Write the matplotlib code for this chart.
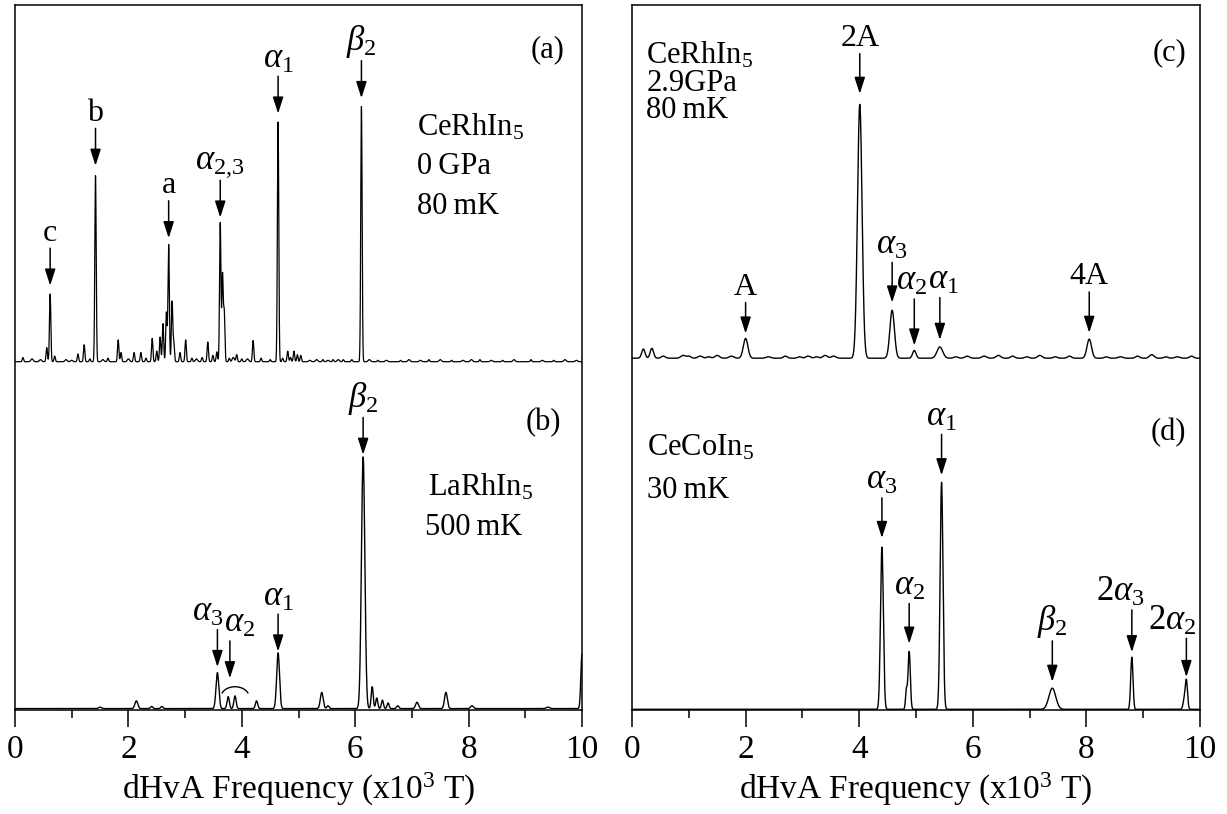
import numpy as np
import matplotlib
matplotlib.use("Agg")
import matplotlib.pyplot as plt
from matplotlib.ticker import MultipleLocator

plt.rcParams['font.family'] = ['Liberation Serif', 'DejaVu Serif']
plt.rcParams['mathtext.fontset'] = 'custom'
plt.rcParams['mathtext.rm'] = 'Liberation Serif'
plt.rcParams['mathtext.it'] = 'Liberation Serif:italic'
plt.rcParams['mathtext.bf'] = 'Liberation Serif:bold'

# ---------------- FFT spectra (frequency in 10^3 T, amplitude in arb. units) -------------
# (a) CeRhIn5, 0 GPa, 80 mK
a_base = 0.494
a_pos = [0.14, 0.56, 0.62, 0.70, 1.11, 1.22, 1.32, 1.42, 1.64, 1.82, 1.87, 2.10, 2.22,
         2.31, 2.42, 2.50, 2.56, 2.61, 2.67, 2.71, 2.77, 2.80, 2.91, 3.01, 3.12, 3.30,
         3.40, 3.49, 3.56, 3.62, 3.66, 3.69, 3.78, 3.91, 4.00, 4.20, 4.34, 4.50, 4.64,
         4.72, 4.81, 4.86, 4.92, 4.98, 5.04, 5.43, 5.61, 5.79, 5.94, 6.11, 6.40, 6.80,
         7.30, 7.70, 8.20, 8.60, 9.10, 9.50,
         0.30, 0.45, 0.90, 1.00, 1.55, 2.00, 3.20, 3.85, 4.10, 5.20, 5.32, 5.52, 5.70,
         6.25, 6.55, 6.95, 7.15, 7.50, 7.90, 8.05, 8.40, 8.80, 9.30, 9.70, 9.90]
a_amp = [0.006, 0.020, 0.096, 0.008, 0.011, 0.024, 0.004, 0.264, 0.005, 0.031, 0.013, 0.013,
         0.013, 0.005, 0.033, 0.015, 0.035, 0.054, 0.070, 0.166, 0.085, 0.027, 0.013, 0.031,
         0.005, 0.006, 0.028, 0.009, 0.014, 0.197, 0.123, 0.070, 0.005, 0.010, 0.004, 0.030,
         0.005, 0.003, 0.340, 0.005, 0.015, 0.006, 0.015, 0.010, 0.009, 0.003, 0.003, 0.003,
         0.003, 0.362, 0.002, 0.002, 0.003, 0.002, 0.003, 0.002, 0.003, 0.002,
         0.004, 0.003, 0.003, 0.002, 0.003, 0.004, 0.004, 0.006, 0.004, 0.002, 0.003, 0.002,
         0.003, 0.003, 0.002, 0.003, 0.002, 0.003, 0.002, 0.003, 0.002, 0.003, 0.002, 0.003,
         0.002]
a_wid = [0.012] * 58 + [0.02] * 25

# (b) LaRhIn5, 500 mK
b_base = 0.002
b_pos = [1.50, 2.14, 2.41, 2.59, 3.57, 3.76, 3.88, 4.26, 4.64, 5.41, 5.52, 6.14, 6.30,
         6.38, 6.48, 6.58, 6.75, 7.09, 7.60, 8.06, 9.40, 10.00]
b_amp = [0.002, 0.011, 0.003, 0.003, 0.051, 0.017, 0.018, 0.011, 0.079, 0.023, 0.004,
         0.357, 0.031, 0.015, 0.012, 0.008, 0.004, 0.009, 0.023, 0.004, 0.002, 0.077]
b_wid = [0.025, 0.025, 0.02, 0.02, 0.025, 0.02, 0.02, 0.02, 0.025, 0.025, 0.02,
         0.03, 0.018, 0.018, 0.018, 0.018, 0.02, 0.025, 0.025, 0.025, 0.03, 0.02]

# (c) CeRhIn5, 2.9 GPa, 80 mK
c_base = 0.499
c_pos = [0.20, 0.35, 0.90, 1.20, 1.50, 1.75, 2.00, 2.40, 3.10, 3.40, 3.55, 4.01, 4.58,
         4.97, 5.42, 5.90, 6.20, 6.45, 7.18, 8.05, 8.60, 9.15, 9.60,
         0.55, 1.00, 1.35, 2.70, 2.95, 3.25, 5.70, 6.70, 6.95, 7.45, 7.70, 8.35, 8.90,
         9.40, 9.85]
c_amp = [0.013, 0.014, 0.004, 0.003, 0.004, 0.003, 0.028, 0.002, 0.003, 0.004, 0.003,
         0.360, 0.068, 0.011, 0.016, 0.003, 0.003, 0.004, 0.004, 0.027, 0.002, 0.005, 0.002,
         0.003, 0.003, 0.002, 0.003, 0.002, 0.002, 0.002, 0.003, 0.002, 0.002, 0.003,
         0.002, 0.003, 0.002, 0.003]
c_wid = [0.03, 0.03, 0.04, 0.04, 0.04, 0.04, 0.04, 0.04, 0.04, 0.04, 0.04, 0.04, 0.04,
         0.03, 0.05, 0.04, 0.04, 0.04, 0.04, 0.04, 0.04, 0.04, 0.04] + [0.035] * 15

# (d) CeCoIn5, 30 mK
d_base = 0.001
d_pos = [4.40, 4.83, 4.88, 5.45, 7.40, 8.80, 9.72, 9.76]
d_amp = [0.230, 0.027, 0.082, 0.322, 0.030, 0.074, 0.012, 0.041]
d_wid = [0.025, 0.015, 0.02, 0.025, 0.06, 0.02, 0.02, 0.02]

x_ticks = [0, 2, 4, 6, 8, 10]
x_label = 'dHvA Frequency (x10$^{3}$ T)'

freq = np.linspace(0, 10.2, 4081)


def spectrum(base, pos, amp, wid):
    y = np.full_like(freq, base)
    for p, a, w in zip(pos, amp, wid):
        y += a * np.exp(-0.5 * ((freq - p) / w) ** 2)
    return y


def local_top(y, x, half=0.03):
    sel = (freq > x - half) & (freq < x + half)
    return y[sel].max()


def mark(ax, y, x, label, gap=0.010, length=0.053, dx=0.0, fs=25, top=None):
    peak = local_top(y, x) if top is None else top
    tip = peak + gap
    tail = tip + length
    ax.annotate('', xy=(x, tip), xytext=(x, tail),
                arrowprops=dict(arrowstyle='-|>,head_length=0.5,head_width=0.16',
                                color='k', lw=1.1, shrinkA=0, shrinkB=0,
                                mutation_scale=20))
    ax.text(x + dx, tail + 0.001, label, ha='center', va='bottom', fontsize=fs)


def bracket(ax, xc, yc, half_w, half_h, t0=25, t1=155):
    t = np.radians(np.linspace(t0, t1, 60))
    ax.plot(xc + half_w * np.cos(t), yc + half_h * np.sin(t), color='k', lw=1.0)


fig = plt.figure(figsize=(12.27, 8.14), dpi=100)
axL = fig.add_axes([15 / 1227, 104 / 814, 567 / 1227, 705 / 814])
axR = fig.add_axes([632 / 1227, 104 / 814, 568 / 1227, 705 / 814])

for ax in (axL, axR):
    ax.set_xlim(0, 10)
    ax.set_ylim(0, 1)
    ax.set_yticks([])
    ax.xaxis.set_major_locator(MultipleLocator(2))
    ax.xaxis.set_minor_locator(MultipleLocator(1))
    ax.set_xticks(x_ticks)
    ax.tick_params(axis='x', which='major', direction='out', length=12, width=1.1,
                   labelsize=24, pad=6, top=False)
    ax.tick_params(axis='x', which='minor', direction='out', length=6, width=1.1, top=False)
    for s in ax.spines.values():
        s.set_linewidth(1.1)
    ax.set_xlabel(x_label, fontsize=24, labelpad=4)

ya = spectrum(a_base, a_pos, a_amp, a_wid)
yb = spectrum(b_base, b_pos, b_amp, b_wid)
yc = spectrum(c_base, c_pos, c_amp, c_wid)
yd = spectrum(d_base, d_pos, d_amp, d_wid)

axL.plot(freq, ya, color='k', lw=0.9)
axL.plot(freq, yb, color='k', lw=1.0)
axR.plot(freq, yc, color='k', lw=1.0)
axR.plot(freq, yd, color='k', lw=1.0)

# ---- panel (a)
mark(axL, ya, a_pos[2], 'c', gap=0.012, fs=23)
mark(axL, ya, a_pos[7], 'b', gap=0.014, fs=23)
mark(axL, ya, a_pos[19], 'a', gap=0.009, fs=23)
mark(axL, ya, a_pos[29], r'$\alpha_{2{,}3}$', gap=0.007)
mark(axL, ya, a_pos[38], r'$\alpha_1$', gap=0.012)
mark(axL, ya, a_pos[49], r'$\beta_2$', gap=0.012)
axL.text(9.4, 0.936, '(a)', ha='center', va='center', fontsize=22)
axL.text(7.09, 0.827, 'CeRhIn$_5$', ha='left', va='center', fontsize=22)
axL.text(7.09, 0.771, '0\u2009GPa', ha='left', va='center', fontsize=22)
axL.text(7.09, 0.714, '80\u2009mK', ha='left', va='center', fontsize=22)

# ---- panel (b)
arc_top = 0.033
bracket(axL, 3.88, 0.018, 0.25, arc_top - 0.018)
mark(axL, yb, b_pos[4], r'$\alpha_3$', gap=0.008, dx=-0.17)
mark(axL, yb, 3.79, r'$\alpha_2$', gap=0.012, dx=0.17, top=arc_top)
mark(axL, yb, b_pos[8], r'$\alpha_1$', gap=0.002)
mark(axL, yb, b_pos[11], r'$\beta_2$', gap=0.003)
axL.text(9.31, 0.407, '(b)', ha='center', va='center', fontsize=22)
axL.text(7.29, 0.316, 'LaRhIn$_5$', ha='left', va='center', fontsize=22)
axL.text(7.23, 0.259, '500\u2009mK', ha='left', va='center', fontsize=22)

# ---- panel (c)
mark(axR, yc, c_pos[6], 'A', gap=0.007, length=0.044, fs=23)
mark(axR, yc, c_pos[11], '2A', gap=0.015, length=0.057, fs=23)
mark(axR, yc, c_pos[12], r'$\alpha_3$', gap=0.011, length=0.057)
mark(axR, yc, c_pos[13], r'$\alpha_2$', gap=0.007, length=0.066, dx=-0.05)
mark(axR, yc, c_pos[14], r'$\alpha_1$', gap=0.010, length=0.060, dx=0.06)
mark(axR, yc, c_pos[19], '4A', gap=0.009, length=0.058, fs=23)
axR.text(9.47, 0.932, '(c)', ha='center', va='center', fontsize=22)
axR.text(0.25, 0.929, 'CeRhIn$_5$', ha='left', va='center', fontsize=22)
axR.text(0.25, 0.889, '2.9GPa', ha='left', va='center', fontsize=22)
axR.text(0.25, 0.851, '80\u2009mK', ha='left', va='center', fontsize=22)

# ---- panel (d)
mark(axR, yd, d_pos[0], r'$\alpha_3$', gap=0.013, length=0.057)
mark(axR, yd, d_pos[2], r'$\alpha_2$', gap=0.011, length=0.057)
mark(axR, yd, d_pos[3], r'$\alpha_1$', gap=0.010, length=0.058)
mark(axR, yd, d_pos[4], r'$\beta_2$', gap=0.009, length=0.058)
mark(axR, yd, d_pos[5], r'$2\alpha_3$', gap=0.007, length=0.060, dx=-0.21)
mark(axR, yd, d_pos[7], r'$2\alpha_2$', gap=0.003, length=0.055, dx=-0.25)
axR.text(9.44, 0.394, '(d)', ha='center', va='center', fontsize=22)
axR.text(0.26, 0.372, 'CeCoIn$_5$', ha='left', va='center', fontsize=22)
axR.text(0.26, 0.312, '30\u2009mK', ha='left', va='center', fontsize=22)

fig.savefig('out.png', dpi=100)
